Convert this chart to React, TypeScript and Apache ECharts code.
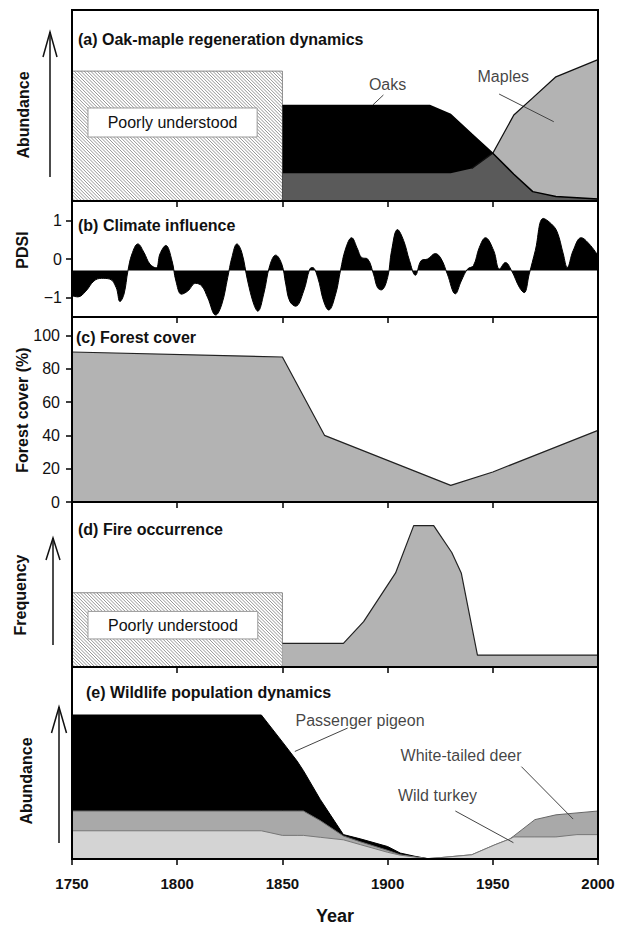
import React, { useEffect, useRef } from "react";
import * as echarts from "echarts";

// ---------- data ----------
const xTicks = [1750, 1800, 1850, 1900, 1950, 2000];

// (a) oak-maple regeneration (relative abundance, 0-100)
const yearsA = [1850, 1920, 1930, 1940, 1950, 1960, 1969, 1980, 2000];
const oaks = [50, 50, 45.3, 35, 25, 14, 4.9, 2.3, 1];
const maples = [14.5, 14.5, 14.5, 17, 25, 45, 54, 65, 74];
const hatchA = [1750, 0, 1850, 68];
const noteA = [1757.6, 33.5, 1838, 48.7];
const labelNamesA = ["Oaks", "Maples"];
const labelXA = [1900, 1955];
const labelYA = [61, 65];
const leadersA = [
  [1898, 55.5, 1893, 50.3],
  [1953, 56, 1979, 41.5],
];

// (b) PDSI
const pdsiYears = [
  1750, 1752.8, 1756.6, 1760.4, 1764, 1768, 1771, 1772.8, 1774.7, 1776.6, 1778.5, 1781.3,
  1784.2, 1787, 1790, 1791.8, 1794.6, 1797.5, 1799.4, 1802, 1805, 1808.8, 1811.7, 1814.5,
  1818.3, 1821.2, 1824, 1826, 1828.4, 1830.7, 1833.5, 1836.4, 1838.3, 1841.1, 1844, 1846.8,
  1849.7, 1851.6, 1853.5, 1856.3, 1860.1, 1863, 1864.3, 1866.8, 1869.6, 1872, 1875.3, 1877.6,
  1880, 1882.9, 1885.7, 1887.6, 1890.5, 1893.3, 1895.2, 1897, 1900, 1901.9, 1904.7, 1907.6,
  1910.4, 1913.2, 1916, 1919, 1922.7, 1925.5, 1928.4, 1932.2, 1935, 1938, 1940.8, 1943.6,
  1946.5, 1950.4, 1953.2, 1956, 1958.9, 1962.7, 1964.9, 1967.3, 1970.2, 1974, 1977.8, 1980.6,
  1983.5, 1985.4, 1988.2, 1992, 1995.8, 2000,
];
const pdsiValues = [
  -0.95, -0.98, -0.83, -0.57, -0.5, -0.52, -0.74, -1.1, -0.91, -0.3, 0.13, 0.39,
  0.17, -0.13, -0.23, 0.13, 0.35, -0.04, -0.57, -0.91, -0.83, -0.63, -0.7, -1.0,
  -1.45, -1.17, -0.48, 0.04, 0.39, 0.17, -0.57, -1.17, -1.35, -0.91, -0.17, 0.1,
  -0.13, -0.65, -1.09, -1.22, -0.83, -0.26, -0.22, -0.48, -1.09, -1.32, -0.91, -0.3,
  0.26, 0.55, 0.26, 0.04, 0.0, -0.39, -0.74, -0.8, -0.48, 0.22, 0.76, 0.48,
  -0.04, -0.42, -0.04, 0.0, 0.14, 0.0, -0.39, -0.9, -0.57, -0.26, -0.17, 0.3,
  0.55, 0.22, -0.26, -0.09, -0.3, -0.74, -0.87, -0.39, 0.22, 1.05, 0.91, 0.7,
  0.13, -0.22, 0.22, 0.55, 0.39, 0.09,
];
const pdsiBase = -0.3;
const pdsiTicks = [-1, 0, 1];

// (c) forest cover (%)
const forestYears = [1750, 1850, 1870, 1900, 1930, 1950, 1970, 2000];
const forestCover = [90, 87, 40, 25, 10, 18, 28, 43];
const forestTicks = [0, 20, 40, 60, 80, 100];

// (d) fire occurrence (relative)
const fireYears = [1850, 1879, 1888.6, 1903.8, 1912.4, 1921.9, 1930.5, 1935, 1942.7, 2000];
const fireFreq = [14.3, 14.3, 27.5, 57, 85.7, 85.7, 69.4, 57, 7.2, 7.2];
const hatchD = [1750, 0, 1850, 45];
const noteD = [1757.6, 17, 1838.3, 33.7];

// (e) wildlife (relative abundance)
const yearsE = [1750, 1840, 1850, 1857, 1860, 1868, 1879, 1887, 1900, 1906, 1913, 1919, 1925, 1940, 1951, 1958, 1960, 1970, 1980, 1990, 2000];
const pigeon = [75, 75, 61, 51, 46, 31, 12.7, 10.5, 6.5, 3.1, 1.4, 0.2, null, null, null, null, null, null, null, null, null];
const deer = [25, 25, 25, 25, 25, 20, 12, 9, 4.5, 2.2, 1.0, 0.2, 0.7, 2.2, 7.4, 10.4, 12, 20.5, 23, 24, 25];
const turkey = [14.7, 14.7, 12.3, 12.3, 12.3, 11.3, 10, 7.5, 3.5, 2, 1.0, 0.2, 0.7, 2.2, 7.4, 10.4, 11.5, 11.5, 11.5, 12.7, 12.7];
const labelNamesE = ["Passenger pigeon", "White-tailed deer", "Wild turkey"];
const labelXE = [1886.9, 1934.9, 1923.7];
const labelYE = [72, 53.8, 33.1];
const leadersE = [
  [1881, 68.2, 1855.9, 56],
  [1963.6, 48.1, 1988.2, 20.8],
  [1932.2, 25, 1959.8, 8.5],
];

const NOTE_TEXT = "Poorly understood";
const panelTitles = [
  "(a) Oak-maple regeneration dynamics",
  "(b) Climate influence",
  "(c) Forest cover",
  "(d) Fire occurrence",
  "(e) Wildlife population dynamics",
];
const yNames = ["Abundance", "PDSI", "Forest cover (%)", "Frequency", "Abundance"];

// ---------- layout ----------
const FONT = '"Liberation Sans", Arial, Helvetica, sans-serif';
const PLOT_LEFT = 72;
const PLOT_W = 526;
const panelTop = [10, 201, 317, 502, 667];
const panelH = [191, 116, 185, 165, 192];
const titlePos = [
  [78, 39],
  [78, 225],
  [76, 337],
  [78, 529],
  [86, 692],
];
const yNamePos = [
  [23, 115],
  [22, 250],
  [22, 410],
  [20, 595],
  [26, 781],
];
// arrows: x, tipY, bottomY, headLen, headHalf
const arrows = [
  [50, 32, 177, 25, 7],
  [53, 538, 645, 22, 7],
  [59, 707, 843, 26, 7.5],
];

const pairs = (xs: number[], ys: (number | null)[]) => xs.map((x, i) => [x, ys[i]]);

function hatchRender(_params: any, api: any) {
  const a = api.coord([api.value(0), api.value(3)]);
  const b = api.coord([api.value(2), api.value(1)]);
  const L = a[0], T = a[1], R = b[0], B = b[1];
  const children: any[] = [
    { type: "rect", shape: { x: L, y: T, width: R - L, height: B - T }, style: { fill: "#fff", stroke: "#8a8a8a", lineWidth: 1 } },
  ];
  const step = 3.3;
  for (let c = L - B; c <= R - T; c += step) {
    const xa = Math.max(L, T + c);
    const xb = Math.min(R, B + c);
    if (xb > xa) {
      children.push({
        type: "line",
        shape: { x1: xa, y1: xa - c, x2: xb, y2: xb - c },
        style: { stroke: "#7a7a7a", lineWidth: 0.8 },
      });
    }
  }
  return { type: "group", children };
}

function noteRender(_params: any, api: any) {
  const a = api.coord([api.value(0), api.value(3)]);
  const b = api.coord([api.value(2), api.value(1)]);
  return {
    type: "group",
    children: [
      { type: "rect", shape: { x: a[0], y: a[1], width: b[0] - a[0], height: b[1] - a[1] }, style: { fill: "#fff", stroke: "#9a9a9a", lineWidth: 1 } },
      {
        type: "text",
        x: (a[0] + b[0]) / 2,
        y: (a[1] + b[1]) / 2,
        style: { text: NOTE_TEXT, align: "center", verticalAlign: "middle", fontSize: 16, fontFamily: FONT, fill: "#111" },
      },
    ],
  };
}

function labelSeries(grid: number, names: string[], xs: number[], ys: number[], leaders: number[][]) {
  return {
    type: "scatter",
    xAxisIndex: grid,
    yAxisIndex: grid,
    symbolSize: 1,
    itemStyle: { color: "rgba(0,0,0,0)" },
    z: 10,
    silent: true,
    data: names.map((n, i) => ({ name: n, value: [xs[i], ys[i]] })),
    label: { show: true, position: "inside", formatter: "{b}", color: "#111", fontSize: 16, fontFamily: FONT },
    markLine: {
      silent: true,
      symbol: ["none", "none"],
      lineStyle: { color: "#444", width: 1, type: "solid" },
      label: { show: false },
      data: leaders.map((l) => [{ coord: [l[0], l[1]] }, { coord: [l[2], l[3]] }]),
    },
  };
}

export default function App() {
  const ref = useRef<HTMLDivElement>(null);

  useEffect(() => {
    document.body.style.margin = "0";
    if (!ref.current) return;
    const chart = echarts.init(ref.current, undefined, { renderer: "svg" });

    const overlap = oaks.map((v, i) => Math.min(v, maples[i]));

    const grids = panelTop.map((t, i) => ({ left: PLOT_LEFT, top: t, width: PLOT_W, height: panelH[i] }));
    const xAxes = panelTop.map((_, i) => ({
      gridIndex: i,
      type: "value",
      min: xTicks[0],
      max: xTicks[xTicks.length - 1],
      interval: 50,
      axisLine: { show: false, onZero: false },
      axisTick: { show: true, length: 6, lineStyle: { color: "#000", width: 1.5 } },
      axisLabel: {
        show: i === 4,
        fontSize: 15,
        fontWeight: "bold",
        fontFamily: FONT,
        color: "#111",
        margin: 17,
        formatter: (v: number) => String(v),
      },
      splitLine: { show: false },
      name: i === 4 ? "Year" : "",
      nameLocation: "middle",
      nameGap: 48,
      nameTextStyle: { fontSize: 18, fontWeight: "bold", fontFamily: FONT, color: "#111" },
    }));
    const yAxes: any[] = [
      { gridIndex: 0, type: "value", min: 0, max: 100, show: false },
      {
        gridIndex: 1,
        type: "value",
        min: -1.5,
        max: 1.5,
        axisLine: { show: false, onZero: false },
        axisTick: { show: true, length: 6, customValues: pdsiTicks, lineStyle: { color: "#000", width: 1.5 } },
        axisLabel: {
          show: true,
          customValues: pdsiTicks,
          margin: 10,
          fontSize: 16,
          fontFamily: FONT,
          color: "#111",
          formatter: (v: number) => (v < 0 ? "\u2212" + Math.abs(v) : String(v)),
        },
        splitLine: { show: false },
      },
      {
        gridIndex: 2,
        type: "value",
        min: 0,
        max: 111,
        axisLine: { show: false, onZero: false },
        axisTick: { show: true, length: 6, customValues: forestTicks, lineStyle: { color: "#000", width: 1.5 } },
        axisLabel: { show: true, customValues: forestTicks, margin: 12, fontSize: 16, fontFamily: FONT, color: "#111" },
        splitLine: { show: false },
      },
      { gridIndex: 3, type: "value", min: 0, max: 100, show: false },
      { gridIndex: 4, type: "value", min: 0, max: 100, show: false },
    ];

    const lineBase = { type: "line", symbol: "none", showSymbol: false, silent: true };

    const series: any[] = [
      // (a)
      { type: "custom", xAxisIndex: 0, yAxisIndex: 0, renderItem: hatchRender, data: [hatchA], encode: { x: [0, 2], y: [1, 3] }, z: 3, silent: true },
      { type: "custom", xAxisIndex: 0, yAxisIndex: 0, renderItem: noteRender, data: [noteA], encode: { x: [0, 2], y: [1, 3] }, z: 4, silent: true },
      { ...lineBase, xAxisIndex: 0, yAxisIndex: 0, data: pairs(yearsA, maples), lineStyle: { width: 0 }, areaStyle: { color: "#b3b3b3", opacity: 1 }, z: 2 },
      { ...lineBase, xAxisIndex: 0, yAxisIndex: 0, data: pairs(yearsA, oaks), lineStyle: { width: 0 }, areaStyle: { color: "#000", opacity: 1 }, z: 3 },
      { ...lineBase, xAxisIndex: 0, yAxisIndex: 0, data: pairs(yearsA, overlap), lineStyle: { width: 0 }, areaStyle: { color: "#5a5a5a", opacity: 1 }, z: 4 },
      { ...lineBase, xAxisIndex: 0, yAxisIndex: 0, data: pairs(yearsA, maples).filter((p, i) => maples[i] >= oaks[i] || (i + 1 < maples.length && maples[i + 1] >= oaks[i + 1])), lineStyle: { color: "#111", width: 1.3 }, z: 5 },
      { ...lineBase, xAxisIndex: 0, yAxisIndex: 0, data: pairs(yearsA, oaks), lineStyle: { color: "#000", width: 1.5 }, z: 5 },
      labelSeries(0, labelNamesA, labelXA, labelYA, leadersA),
      // (b)
      {
        ...lineBase,
        xAxisIndex: 1,
        yAxisIndex: 1,
        smooth: 0.4,
        data: pairs(pdsiYears, pdsiValues),
        lineStyle: { color: "#000", width: 1 },
        areaStyle: { color: "#000", opacity: 1, origin: pdsiBase },
        z: 3,
      },
      // (c)
      { ...lineBase, xAxisIndex: 2, yAxisIndex: 2, data: pairs(forestYears, forestCover), lineStyle: { color: "#222", width: 1.2 }, areaStyle: { color: "#b3b3b3", opacity: 1 }, z: 3 },
      // (d)
      { type: "custom", xAxisIndex: 3, yAxisIndex: 3, renderItem: hatchRender, data: [hatchD], encode: { x: [0, 2], y: [1, 3] }, z: 3, silent: true },
      { type: "custom", xAxisIndex: 3, yAxisIndex: 3, renderItem: noteRender, data: [noteD], encode: { x: [0, 2], y: [1, 3] }, z: 4, silent: true },
      { ...lineBase, xAxisIndex: 3, yAxisIndex: 3, data: pairs(fireYears, fireFreq), lineStyle: { color: "#222", width: 1.2 }, areaStyle: { color: "#b3b3b3", opacity: 1 }, z: 3 },
      // (e)
      { ...lineBase, xAxisIndex: 4, yAxisIndex: 4, data: pairs(yearsE, pigeon), connectNulls: false, lineStyle: { color: "#000", width: 1 }, areaStyle: { color: "#000", opacity: 1 }, z: 2 },
      { ...lineBase, xAxisIndex: 4, yAxisIndex: 4, data: pairs(yearsE, deer), lineStyle: { color: "#666", width: 1 }, areaStyle: { color: "#a9a9a9", opacity: 1 }, z: 3 },
      { ...lineBase, xAxisIndex: 4, yAxisIndex: 4, data: pairs(yearsE, turkey), lineStyle: { color: "#777", width: 1 }, areaStyle: { color: "#d4d4d4", opacity: 1 }, z: 4 },
      labelSeries(4, labelNamesE, labelXE, labelYE, leadersE),
    ];

    const graphic: any[] = [];
    panelTop.forEach((t, i) => {
      graphic.push({
        type: "rect",
        z: 100,
        silent: true,
        shape: { x: PLOT_LEFT, y: t, width: PLOT_W, height: panelH[i] },
        style: { fill: "none", stroke: "#000", lineWidth: 2 },
      });
      graphic.push({
        type: "text",
        z: 101,
        x: titlePos[i][0],
        y: titlePos[i][1],
        style: { text: panelTitles[i], fontSize: 16, fontWeight: "bold", fontFamily: FONT, fill: "#111", align: "left", verticalAlign: "middle" },
      });
      graphic.push({
        type: "text",
        z: 101,
        x: yNamePos[i][0],
        y: yNamePos[i][1],
        rotation: Math.PI / 2,
        style: { text: yNames[i], fontSize: 16, fontWeight: "bold", fontFamily: FONT, fill: "#111", align: "center", verticalAlign: "middle" },
      });
    });
    arrows.forEach(([x, tip, bottom, hl, hw]) => {
      graphic.push({ type: "line", z: 101, shape: { x1: x, y1: tip, x2: x, y2: bottom }, style: { stroke: "#111", lineWidth: 1.5 } });
      graphic.push({
        type: "polyline",
        z: 101,
        shape: { points: [[x - hw, tip + hl], [x, tip], [x + hw, tip + hl]] },
        style: { stroke: "#111", lineWidth: 1.5, fill: "none" },
      });
    });

    chart.setOption({
      animation: false,
      backgroundColor: "#fff",
      grid: grids,
      xAxis: xAxes,
      yAxis: yAxes,
      series,
      graphic,
    });
    return () => chart.dispose();
  }, []);

  return <div ref={ref} style={{ width: 626, height: 932 }} />;
}
